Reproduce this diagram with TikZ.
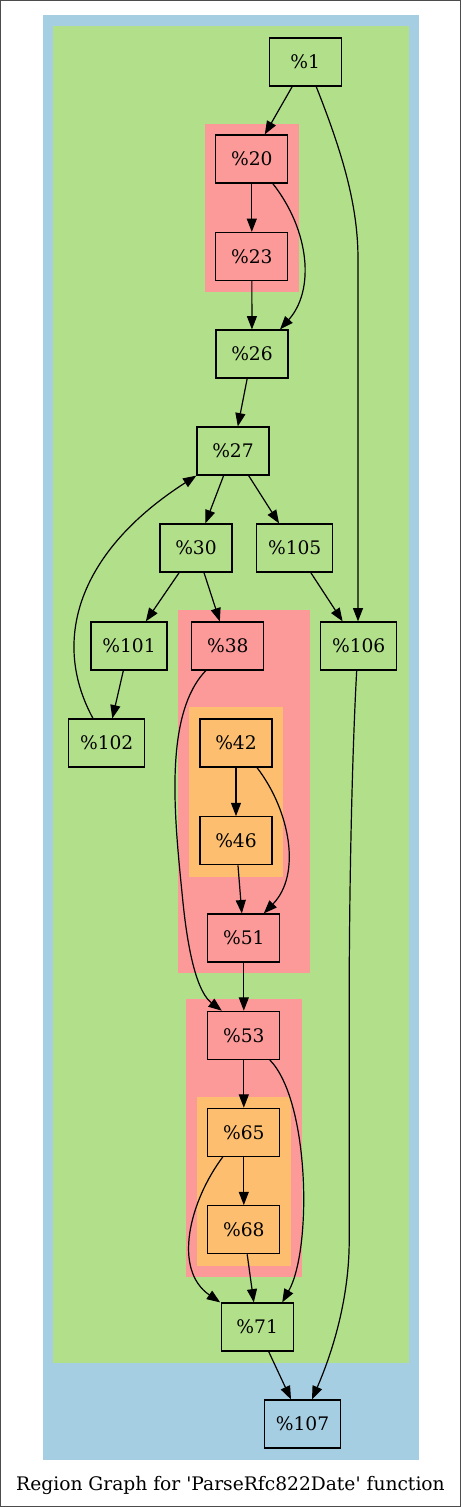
\documentclass[tikz,border=0pt]{standalone}
\usepackage{fontspec}
\setmainfont{DejaVu Serif}
\usetikzlibrary{arrows.meta,calc}
\definecolor{regblue}{HTML}{A6CEE3}
\definecolor{reggreen}{HTML}{B2DF8A}
\definecolor{regred}{HTML}{FB9A99}
\definecolor{regorange}{HTML}{FDBF6F}
\tikzset{
  blk/.style={draw=black, line width=0.9pt, minimum width=54pt, minimum height=36pt,
    inner xsep=8.5pt, font=\fontsize{14pt}{16pt}\selectfont},
  edge/.style={draw=black, line width=0.9pt, -{Triangle[length=10pt,width=7.5pt]}},
}
\begin{document}
\begin{tikzpicture}[x=0.75pt,y=-0.75pt]

      \useasboundingbox (0,0) rectangle (461,1507);
      \draw[black!70, line width=0.75pt] (0.5,0.5) rectangle (460.5,1506.5);

      \fill[regblue] (42.5,15) rectangle (419.3,1460);
      \fill[reggreen] (52.7,26) rectangle (409.3,1363.3);
      \fill[regred] (205,124) rectangle (299,292.3);
      \fill[regred] (178,610) rectangle (310,973.3);
      \fill[regorange] (188.7,707.3) rectangle (283,876.7);
      \fill[regred] (186,999.3) rectangle (301.7,1276.7);
      \fill[regorange] (197,1096.7) rectangle (291,1266);

      \node[blk, fill=reggreen] (n1) at (305.2,62) {\%1};
      \node[blk, fill=regred] (n20) at (251.8,159) {\%20};
      \node[blk, fill=regred] (n23) at (251.8,256.5) {\%23};
      \node[blk, fill=reggreen] (n26) at (252,354) {\%26};
      \node[blk, fill=reggreen] (n27) at (233,451) {\%27};
      \node[blk, fill=reggreen] (n30) at (196,548) {\%30};
      \node[blk, fill=reggreen] (n105) at (294.7,548) {\%105};
      \node[blk, fill=reggreen] (n101) at (129,646) {\%101};
      \node[blk, fill=regred] (n38) at (227.8,646) {\%38};
      \node[blk, fill=reggreen] (n106) at (358.7,646) {\%106};
      \node[blk, fill=reggreen] (n102) at (106.7,743) {\%102};
      \node[blk, fill=regorange] (n42) at (236,743) {\%42};
      \node[blk, fill=regorange] (n46) at (236,840.7) {\%46};
      \node[blk, fill=regred] (n51) at (243.8,938) {\%51};
      \node[blk, fill=regred] (n53) at (243.8,1035.3) {\%53};
      \node[blk, fill=regorange] (n65) at (243.8,1132.3) {\%65};
      \node[blk, fill=regorange] (n68) at (243.8,1229.7) {\%68};
      \node[blk, fill=reggreen] (n71) at (257.2,1327) {\%71};
      \node[blk, fill=regblue] (n107) at (302.5,1424) {\%107};

      \draw[edge] ($(n1.south)+(-13,0)$) -- ($(n20.north)+(13,0)$);
      \draw[edge] ($(n1.south)+(11,0)$) .. controls +(29,73) and +(0,-50) .. ($(n106.north)+(-0.7,-362)$) -- ($(n106.north)+(-0.7,0)$);
      \draw[edge] (n20) -- (n23);
      \draw[edge] ($(n20.south)+(21,0)$) .. controls +(37,47) and +(35,-39) .. ($(n26.north)+(28,0)$);
      \draw[edge] (n23) -- (n26);
      \draw[edge] (n26) -- (n27);
      \draw[edge] (n27) -- (n30);
      \draw[edge] (n27) -- (n105);
      \draw[edge] (n30) -- (n101);
      \draw[edge] (n30) -- (n38);
      \draw[edge] (n105) -- (n106);
      \draw[edge] (n101) -- (n102);
      \draw[edge] ($(n102.north)+(-13.7,0)$) .. controls +(-43,-79) and +(-117,75) .. (n27.south west);
      \draw[edge] ($(n38.south)+(-22,0)$) .. controls +(-43,45) and +(-8,-80) .. ($(n38.south)+(-45,230)$)
        .. controls +(8,80) and +(-17,-13) .. ($(n53.north)+(-22,0)$);
      \draw[edge] (n42) -- (n46);
      \draw[edge] ($(n42.south)+(21,0)$) .. controls +(33,43) and +(38,-39) .. ($(n51.north)+(20,0)$);
      \draw[edge] (n46) -- (n51);
      \draw[edge] (n51) -- (n53);
      \draw[edge] (n53) -- (n65);
      \draw[edge] ($(n53.south)+(26,0)$) .. controls +(40,41) and +(30,-53) .. ($(n71.north)+(25,0)$);
      \draw[edge] (n65) -- (n68);
      \draw[edge] ($(n65.south)+(-21,0)$) .. controls +(-33,44) and +(-48,-33) .. ($(n71.north)+(-37,0)$);
      \draw[edge] (n68) -- (n71);
      \draw[edge] (n71) -- (n107);
      \draw[edge] ($(n106.south)+(-2,0)$) .. controls +(-5,90) and +(0,-100) .. ($(n106.south)+(-9.5,330)$)
        -- ($(n106.south)+(-9.5,570)$) .. controls +(0,70) and +(13,-30) .. ($(n107.north)+(9.5,0)$);

      \node[font=\fontsize{14pt}{16pt}\selectfont, anchor=base] (title) at (230.5,1490.5)
        {Region Graph for \textquotesingle ParseRfc822Date\textquotesingle{} function};

    \end{tikzpicture}
\end{document}
